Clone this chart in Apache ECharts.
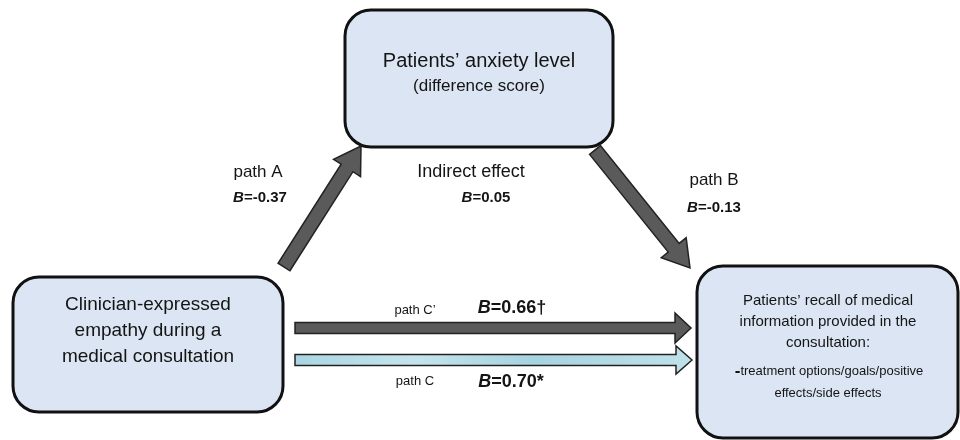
<!DOCTYPE html>
<html>
<head>
<meta charset="utf-8">
<script src="https://cdn.jsdelivr.net/npm/echarts@6/dist/echarts.min.js"></script>
<style>
  html, body { margin: 0; padding: 0; background: #fff; }
  #chart { width: 960px; height: 440px; }
</style>
</head>
<body>
<div id="chart"></div>
<script>
// node texts
const mediatorLines = ['Patients’ anxiety level', '(difference score)'];
const predictorLines = ['Clinician-expressed', 'empathy during a', 'medical consultation'];
const outcomeLines = ['Patients’ recall of medical', 'information provided in the', 'consultation:'];
const outcomeDetail = ['treatment options/goals/positive', 'effects/side effects'];

// paths and coefficients
const pathNames = ['path A', 'path B', 'path C’', 'path C', 'Indirect effect'];
const pathCoefs = ['-0.37', '-0.13', '0.66†', '0.70*', '0.05'];

// layout (diagram coordinates, 960 x 440)
const layout = {
  boxes: [
    [345, 10, 613, 147],
    [13, 277, 283, 412],
    [697, 266, 958, 438]
  ],
  arrows: [
    // x0, y0, x1, y1, shaft half width, head half width, head length, kind
    [284, 267, 361, 146, 7, 16, 26, 'dark'],
    [595, 150, 690, 268, 7, 16, 26, 'dark'],
    [295, 328, 691, 328, 5.5, 15, 16, 'dark'],
    [295, 360, 692, 360, 5.5, 14, 16, 'light']
  ]
};

const font = '"Liberation Sans", Arial, Helvetica, sans-serif';
const textColor = '#141414';

let myChart = echarts.init(document.getElementById('chart'));

function arrowPoints(a, api) {
  let p0 = api.coord([a[0], a[1]]);
  let p1 = api.coord([a[2], a[3]]);
  let dx = p1[0] - p0[0], dy = p1[1] - p0[1];
  let len = Math.sqrt(dx * dx + dy * dy);
  let ux = dx / len, uy = dy / len;
  let nx = -uy, ny = ux;
  let w = a[4], h = a[5], L = a[6];
  let bx = p1[0] - ux * L, by = p1[1] - uy * L;
  return [
    [p0[0] + nx * w, p0[1] + ny * w],
    [bx + nx * w, by + ny * w],
    [bx + nx * h, by + ny * h],
    [p1[0], p1[1]],
    [bx - nx * h, by - ny * h],
    [bx - nx * w, by - ny * w],
    [p0[0] - nx * w, p0[1] - ny * w]
  ];
}

function plainText(x, y, text, size) {
  return {
    type: 'text', x: x, y: y, z: 100,
    style: {
      text: text,
      font: size + 'px ' + font,
      fill: textColor,
      textAlign: 'center',
      textVerticalAlign: 'middle'
    }
  };
}

function coefText(x, y, coef, size) {
  return {
    type: 'text', x: x, y: y, z: 100,
    style: {
      text: '{b|B}{v|=' + coef + '}',
      textAlign: 'center',
      textVerticalAlign: 'middle',
      rich: {
        b: { fontFamily: font, fontSize: size, fontWeight: 'bold', fontStyle: 'italic', fill: textColor },
        v: { fontFamily: font, fontSize: size, fontWeight: 'bold', fill: textColor }
      }
    }
  };
}

let option = {
  animation: false,
  grid: { left: 0, right: 0, top: 0, bottom: 0 },
  xAxis: { type: 'value', min: 0, max: 960, show: false },
  yAxis: { type: 'value', min: 0, max: 440, inverse: true, show: false },
  series: [
    {
      name: 'boxes',
      type: 'custom',
      silent: true,
      z: 1,
      data: layout.boxes,
      renderItem: function (params, api) {
        let p0 = api.coord([api.value(0), api.value(1)]);
        let p1 = api.coord([api.value(2), api.value(3)]);
        return {
          type: 'rect',
          shape: { x: p0[0], y: p0[1], width: p1[0] - p0[0], height: p1[1] - p0[1], r: 26 },
          style: { fill: '#dbe5f3', stroke: '#111', lineWidth: 3 }
        };
      }
    },
    {
      name: 'arrows',
      type: 'custom',
      silent: true,
      z: 2,
      data: layout.arrows.map(a => a.slice(0, 7)),
      renderItem: function (params, api) {
        let a = layout.arrows[params.dataIndex];
        let light = a[7] === 'light';
        return {
          type: 'polygon',
          shape: { points: arrowPoints(a, api) },
          style: {
            fill: light ? new echarts.graphic.LinearGradient(0, 0, 1, 0, [
              { offset: 0, color: '#a9d6e3' },
              { offset: 0.3, color: '#c4e4ec' },
              { offset: 0.6, color: '#a6d3e0' },
              { offset: 1, color: '#c0e2ea' }
            ]) : '#5a5a5a',
            stroke: '#222',
            lineWidth: 1.5,
            lineJoin: 'miter'
          }
        };
      }
    }
  ],
  graphic: [
    // mediator box text
    plainText(479, 61, mediatorLines[0], 20),
    plainText(479, 86, mediatorLines[1], 17),
    // predictor box text
    ...predictorLines.map((t, i) => plainText(148, 305 + i * 26, t, 19)),
    // outcome box text
    ...outcomeLines.map((t, i) => plainText(828, 301 + i * 21, t, 15)),
    {
      type: 'text', x: 829, y: 371, z: 100,
      style: {
        text: '{d|-}{t|' + outcomeDetail[0] + '}',
        textAlign: 'center', textVerticalAlign: 'middle',
        rich: {
          d: { fontFamily: font, fontSize: 17, fontWeight: 'bold', fill: textColor },
          t: { fontFamily: font, fontSize: 13, fill: textColor }
        }
      }
    },
    plainText(828, 393, outcomeDetail[1], 13),
    // path labels
    plainText(258, 172, pathNames[0], 17),
    coefText(260, 198, pathCoefs[0], 15),
    plainText(714, 180, pathNames[1], 17),
    coefText(714, 208, pathCoefs[1], 15),
    plainText(471, 172, pathNames[4], 18),
    coefText(486, 198, pathCoefs[4], 15),
    plainText(415, 310, pathNames[2], 13),
    coefText(512, 308, pathCoefs[2], 18),
    plainText(415, 381, pathNames[3], 13),
    coefText(511, 382, pathCoefs[3], 18)
  ]
};

myChart.setOption(option);
</script>
</body>
</html>
